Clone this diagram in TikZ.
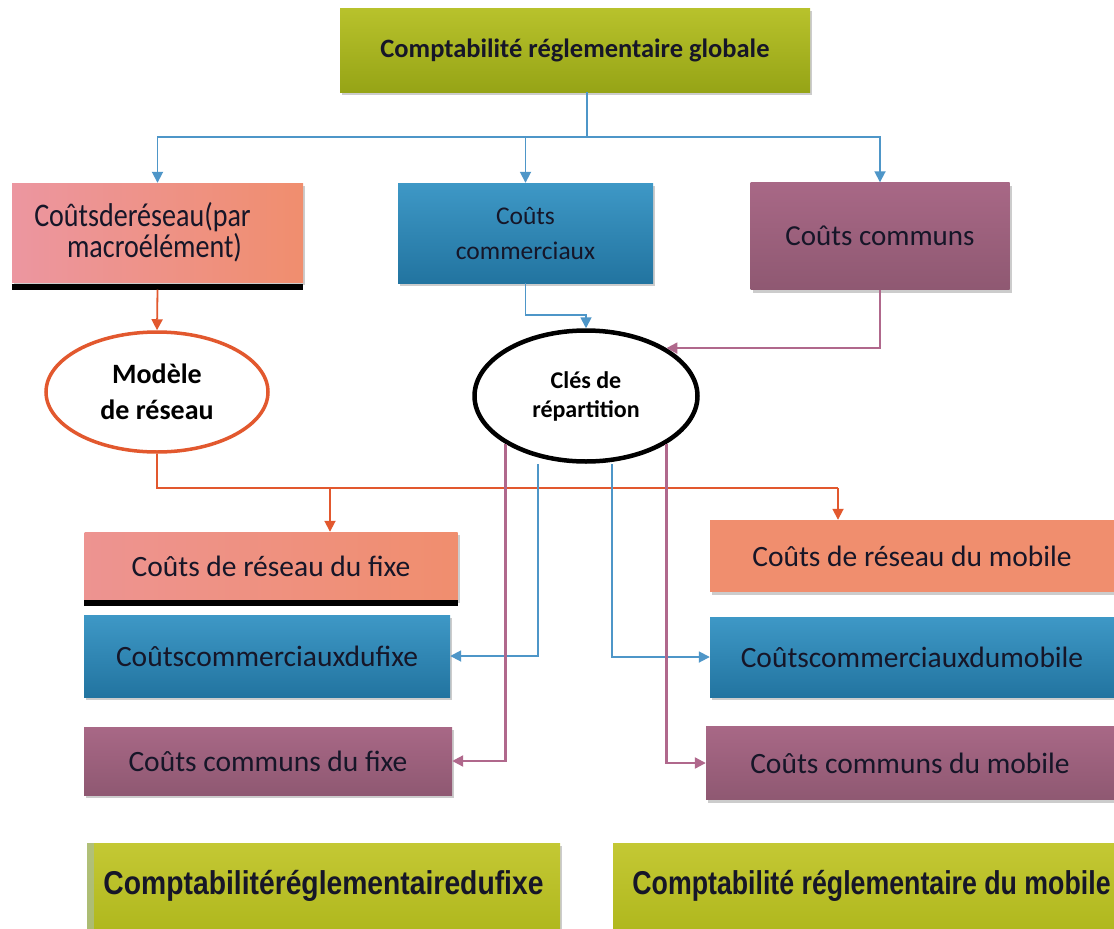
\documentclass[tikz,border=0pt]{standalone}
\usepackage{fontspec}
\setmainfont{Carlito}
\newfontfamily\arialf{Liberation Sans}
\usetikzlibrary{shapes.geometric,arrows.meta,shadows,calc}
\definecolor{olvT}{RGB}{184,194,44}
\definecolor{olvB}{RGB}{150,164,22}
\definecolor{yelT}{RGB}{196,200,52}
\definecolor{yelB}{RGB}{176,184,30}
\definecolor{yelS}{RGB}{170,190,150}
\definecolor{sal}{RGB}{240,142,110}
\definecolor{salP}{RGB}{236,150,160}
\definecolor{bluT}{RGB}{62,152,198}
\definecolor{bluB}{RGB}{34,116,160}
\definecolor{mauD}{RGB}{168,104,134}
\definecolor{mauL}{RGB}{214,162,188}
\definecolor{lnB}{RGB}{78,150,200}
\definecolor{lnO}{RGB}{226,88,46}
\definecolor{lnM}{RGB}{176,104,140}
\definecolor{txt}{RGB}{22,22,40}
\newcommand\fsz[2]{\fontsize{#1}{#2}\selectfont}
\begin{document}
\begin{tikzpicture}[x=1pt,y=-1pt,
  base/.style={rectangle,inner sep=0pt,align=center,text=txt,
    drop shadow={opacity=0.4,shadow xshift=2pt,shadow yshift=-3pt}},
  greenbox/.style={base,top color=olvT,bottom color=olvB,font=\bfseries\fsz{26.5}{30}},
  yelbox/.style={base,top color=yelT,bottom color=yelB,font=\arialf\bfseries\fsz{33}{36}},
  salbox/.style={base,left color=salP,right color=sal,font=\fsz{29.5}{34}},
  salflat/.style={base,fill=sal,font=\fsz{29.5}{34}},
  blubox/.style={base,top color=bluT,bottom color=bluB,font=\fsz{29.5}{34}},
  maubox/.style={base,top color=mauD,middle color=mauL,bottom color=mauD!85!black,font=\fsz{29.5}{34}},
  ell/.style={ellipse,fill=white,inner sep=0pt,align=center,text=black},
  arr/.style={-{Triangle[length=11pt,width=11pt]}},
  bl/.style={draw=lnB,line width=1.8pt},
  ol/.style={draw=lnO,line width=1.8pt},
  ml/.style={draw=lnM,line width=2.2pt},
  bar/.style={line width=6pt,black}]
\useasboundingbox (0,0) rectangle (1114,929);
\fill[white] (0,0) rectangle (1114,929);

% nodes
\node[greenbox,minimum width=470pt,minimum height=84pt] (T) at (575,50) {Comptabilité réglementaire globale};
\node[salbox,minimum width=291pt,minimum height=99pt,font=\fsz{33}{31}] (A) at (157.5,232.5) {\scalebox{0.85}[1]{Coûtsderéseau(par}\hspace*{30pt}\\\scalebox{0.85}[1]{macroélément)}\hspace*{6pt}};
\node[blubox,minimum width=255pt,minimum height=100pt,font=\fsz{25.5}{35}] (B) at (525.5,233) {Coûts\\commerciaux};
\node[maubox,minimum width=259pt,minimum height=107pt,font=\fsz{29}{34}] (C) at (880,236) {Coûts communs};
\node[ell,draw=lnO,line width=3.5pt,minimum width=222pt,minimum height=120pt,font=\bfseries\fsz{28}{36}] (M) at (157,392) {Modèle\\de réseau};
\node[ell,draw=black,line width=4.5pt,minimum width=223pt,minimum height=131pt,font=\bfseries\fsz{24}{29}] (K) at (586,396) {Clés de\\répartition};
\node[salbox,minimum width=373pt,minimum height=68pt,left color=salP!70!sal] (D) at (271,566) {Coûts de réseau du fixe};
\node[salflat,minimum width=404pt,minimum height=72pt] (E) at (912,556) {Coûts de réseau du mobile};
\node[blubox,minimum width=366pt,minimum height=82pt] (F) at (267,656) {Coûtscommerciauxdufixe};
\node[blubox,minimum width=404pt,minimum height=80pt] (G) at (912,657) {Coûtscommerciauxdumobile};
\node[maubox,minimum width=368pt,minimum height=68pt] (H) at (268,761) {Coûts communs du fixe};
\node[maubox,minimum width=408pt,minimum height=73pt] (I) at (910,763) {Coûts communs du mobile};
\node[yelbox,minimum width=473pt,minimum height=86pt] (J) at (323.5,886) {\scalebox{0.857}[1]{Comptabilitéréglementairedufixe}};
\node[yelbox,minimum width=501pt,minimum height=86pt] (L) at (863.5,886) {\hspace*{16pt}\scalebox{0.81}[1]{Comptabilité réglementaire du mobile}};
\fill[yelS,opacity=0.7] (J.north west) rectangle ([xshift=7pt]J.south west);

% black bars
\draw[bar] ([yshift=-4.5pt]A.south west) -- ([yshift=-4.5pt]A.south east);
\draw[bar] ([yshift=-3pt]D.south west) -- ([yshift=-3pt]D.south east);

% top distribution
\coordinate (hub) at (587,137);
\draw[bl] (T.south -| hub) -- (hub);
\draw[bl,arr] (hub) -| (A.north);
\draw[bl,arr] (hub) -| (C.north);
\draw[bl,arr] (hub -| B.north) -- (B.north);

% to ellipses
\draw[ol,arr] ([yshift=-7.5pt]A.south) -- (M.north);
\draw[bl,arr] (B.south) -- ++(0,32) -| (K.north);
\draw[ml,arr] (C.south) |- (K.north east);

% network model distribution
\coordinate (obus) at (0,488);
\coordinate (dA) at (330,488);
\coordinate (eA) at (838,488);
\draw[ol] (M.south) -- (M.south |- obus) -- (eA);
\draw[ol,arr] (dA) -- (dA |- D.north);
\draw[ol,arr] (eA) -- (eA |- E.north);

% allocation keys
\coordinate (b1) at (538,464);
\coordinate (b2) at (612,464);
\draw[bl,arr] (b1) |- (F.east);
\draw[bl,arr] (b2) |- (G.west);
\draw[ml,arr] (K.south west) |- (H.east);
\draw[ml,arr] (K.south east) |- (I.west);
\end{tikzpicture}
\end{document}
